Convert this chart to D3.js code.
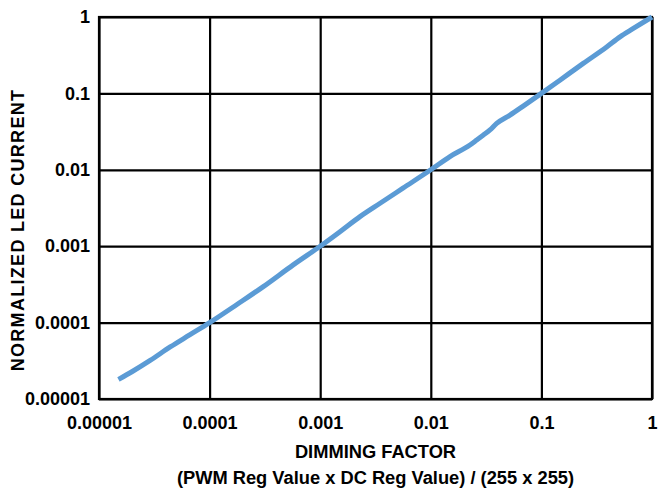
<!DOCTYPE html>
<html>
<head>
<meta charset="utf-8">
<script src="https://cdn.jsdelivr.net/npm/d3@7"></script>
<style>
  html, body { margin: 0; padding: 0; background: #fff; }
  svg { display: block; }
  text { font-family: "Liberation Sans", Arial, sans-serif; font-weight: bold; fill: #000; }
</style>
</head>
<body>
<svg id="chart" width="669" height="491"></svg>
<script>
// ---- data ----
const xTickValues = [1e-5, 1e-4, 1e-3, 1e-2, 1e-1, 1];
const xTickLabels = ["0.00001", "0.0001", "0.001", "0.01", "0.1", "1"];
const yTickValues = [1e-5, 1e-4, 1e-3, 1e-2, 1e-1, 1];
const yTickLabels = ["0.00001", "0.0001", "0.001", "0.01", "0.1", "1"];

const dimmingFactor = [
  1.50e-5, 2.0e-5, 2.9e-5, 4.4e-5, 6.6e-5, 1.0e-4, 1.78e-4, 3.06e-4, 5.7e-4,
  1.0e-3, 1.51e-3, 2.29e-3, 3.48e-3, 5.6e-3, 1.0e-2, 1.49e-2, 2.26e-2, 2.6e-2,
  2.99e-2, 3.43e-2, 3.94e-2, 5.2e-2, 6.85e-2, 0.1, 0.147, 0.239, 0.389, 0.514,
  0.678, 1.0
];
const ledCurrent = [
  1.80e-5, 2.29e-5, 3.2e-5, 4.8e-5, 6.9e-5, 1.0e-4, 1.74e-4, 2.96e-4, 5.7e-4,
  1.0e-3, 1.55e-3, 2.44e-3, 3.65e-3, 5.75e-3, 1.0e-2, 1.49e-2, 2.11e-2, 2.45e-2,
  2.85e-2, 3.32e-2, 4.05e-2, 5.2e-2, 6.82e-2, 0.1, 0.149, 0.247, 0.406, 0.55,
  0.708, 1.0
];

const xTitle = "DIMMING FACTOR";
const xSubTitle = "(PWM Reg Value x DC Reg Value) / (255 x 255)";
const yTitle = "NORMALIZED LED CURRENT";

// ---- layout ----
const svg = d3.select("#chart");
const pLeft = 99, pRight = 652, pTop = 17, pBottom = 399;

const x = d3.scaleLog().domain([1e-5, 1]).range([pLeft, pRight]);
const y = d3.scaleLog().domain([1e-5, 1]).range([pBottom, pTop]);

svg.append("rect").attr("width", 669).attr("height", 491).attr("fill", "#fff");

// grid via axes
const xGrid = svg.append("g")
  .attr("transform", `translate(0,${pBottom})`)
  .call(d3.axisBottom(x).tickValues(xTickValues).tickSize(-(pBottom - pTop)).tickFormat(""));
const yGrid = svg.append("g")
  .attr("transform", `translate(${pLeft},0)`)
  .call(d3.axisLeft(y).tickValues(yTickValues).tickSize(-(pRight - pLeft)).tickFormat(""));
[xGrid, yGrid].forEach(g => {
  g.selectAll("line").attr("stroke", "#000").attr("stroke-width", 2.2);
  g.select(".domain").remove();
});
svg.append("rect")
  .attr("x", pLeft).attr("y", pTop)
  .attr("width", pRight - pLeft).attr("height", pBottom - pTop)
  .attr("fill", "none").attr("stroke", "#000").attr("stroke-width", 2.2);

// tick labels
const xAxis = svg.append("g")
  .attr("transform", `translate(0,${pBottom})`)
  .call(d3.axisBottom(x).tickValues(xTickValues).tickSize(0).tickPadding(17)
    .tickFormat((d, i) => xTickLabels[i]));
xAxis.select(".domain").remove();
xAxis.attr("font-family", null).attr("font-size", null);
xAxis.selectAll("text").attr("font-size", 18).attr("fill", "#000");

const yAxis = svg.append("g")
  .attr("transform", `translate(${pLeft},0)`)
  .call(d3.axisLeft(y).tickValues(yTickValues).tickSize(0).tickPadding(9)
    .tickFormat((d, i) => yTickLabels[i]));
yAxis.select(".domain").remove();
yAxis.attr("font-family", null).attr("font-size", null);
yAxis.selectAll("text").attr("font-size", 18).attr("fill", "#000");

// line
const pts = dimmingFactor.map((d, i) => [d, ledCurrent[i]]);
svg.append("path")
  .datum(pts)
  .attr("fill", "none")
  .attr("stroke", "#5b9bd5")
  .attr("stroke-width", 5)
  .attr("stroke-linejoin", "round")
  .attr("d", d3.line().x(d => x(d[0])).y(d => y(d[1])).curve(d3.curveMonotoneX));

// titles
svg.append("text")
  .attr("x", (pLeft + pRight) / 2).attr("y", 458)
  .attr("text-anchor", "middle").attr("font-size", 18.3)
  .text(xTitle);
svg.append("text")
  .attr("x", (pLeft + pRight) / 2).attr("y", 484)
  .attr("text-anchor", "middle").attr("font-size", 18.3)
  .text(xSubTitle);
svg.append("text")
  .attr("transform", "translate(24,230) rotate(-90)")
  .attr("text-anchor", "middle").attr("font-size", 18).attr("letter-spacing", 1.3)
  .text(yTitle);
</script>
</body>
</html>
